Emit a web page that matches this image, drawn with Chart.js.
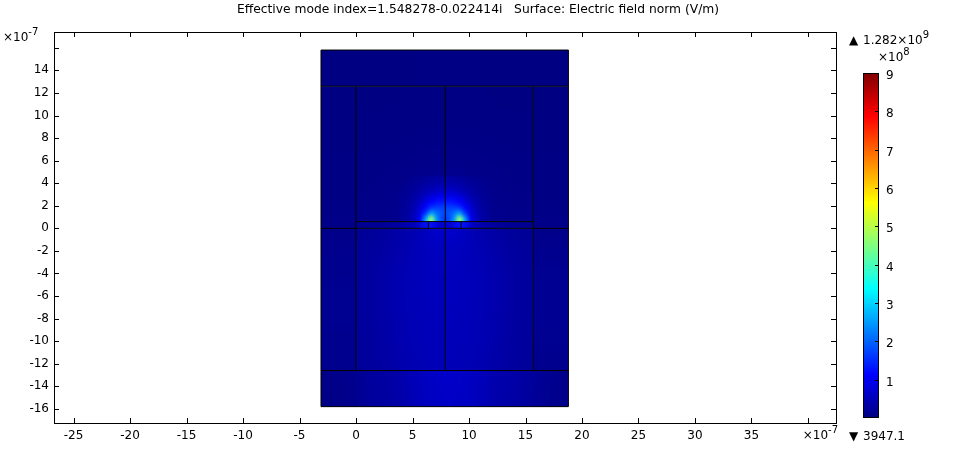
<!DOCTYPE html>
<html>
<head>
<meta charset="utf-8">
<script src="https://cdn.jsdelivr.net/npm/chart.js@4.4.0/dist/chart.umd.min.js"></script>
<style>
html, body { margin: 0; padding: 0; background: #fff; }
#grafico { display: block; }
</style>
</head>
<body>
<canvas id="grafico" width="962" height="452"></canvas>
<script>
// Textos
var titulo = "Effective mode index=1.548278-0.022414i   Surface: Electric field norm (V/m)";
var maximoTexto = "1.282\u00d710";
var maximoExp = "9";
var minimoTexto = "3947.1";

// Ejes (x10^-7 m)
var xRango = [-26.73, 42.48];
var yRango = [-17.25, 17.4];
var xTicks = [-25, -20, -15, -10, -5, 0, 5, 10, 15, 20, 25, 30, 35, 40];
var xEtiquetas = ["-25", "-20", "-15", "-10", "-5", "0", "5", "10", "15", "20", "25", "30", "35", ""];
var yTicks = [-16, -14, -12, -10, -8, -6, -4, -2, 0, 2, 4, 6, 8, 10, 12, 14, 16];
var yEtiquetas = ["-16", "-14", "-12", "-10", "-8", "-6", "-4", "-2", "0", "2", "4", "6", "8", "10", "12", "14", ""];

// Barra de color (x10^8 V/m)
var cbRango = [0, 9];
var cbTicks = [1, 2, 3, 4, 5, 6, 7, 8, 9];

// Campo |E| por regiones (x10^8 V/m), filas de arriba hacia abajo
// extension: [xmin, xmax, ymin, ymax]
var extCubierta = [-3.1, 18.8, 12.6, 15.8];
var campoCubierta = [
  [0.02, 0.03, 0.03, 0.04, 0.04, 0.03, 0.03, 0.02]
];

var extLateralIzq = [-3.1, 0, -12.6, 12.6];
var campoLateralIzq = [[0.02], [0.03], [0.03], [0.04], [0.05], [0.06], [0.09], [0.12], [0.14], [0.15], [0.15], [0.14], [0.13]];

var extLateralDer = [15.7, 18.8, -12.6, 12.6];
var campoLateralDer = [[0.02], [0.03], [0.03], [0.04], [0.05], [0.06], [0.09], [0.13], [0.15], [0.16], [0.16], [0.15], [0.14]];

var extCentralSup = [0, 15.7, 0.6, 12.6];
var campoCentralSup = [
  [0.03, 0.03, 0.04, 0.04, 0.04, 0.04, 0.03, 0.03],
  [0.04, 0.04, 0.05, 0.05, 0.05, 0.05, 0.04, 0.04],
  [0.05, 0.05, 0.06, 0.07, 0.07, 0.06, 0.05, 0.05],
  [0.06, 0.07, 0.08, 0.10, 0.10, 0.08, 0.07, 0.06],
  [0.07, 0.09, 0.12, 0.16, 0.16, 0.12, 0.09, 0.07],
  [0.09, 0.11, 0.16, 0.22, 0.22, 0.16, 0.11, 0.09]
];

var extBrillo = [3.9, 11.9, 0.6, 4.6];
var campoBrillo = [
  [0.10, 0.12, 0.15, 0.19, 0.23, 0.27, 0.30, 0.32, 0.32, 0.30, 0.27, 0.23, 0.19, 0.15, 0.12, 0.10],
  [0.12, 0.15, 0.20, 0.25, 0.32, 0.38, 0.43, 0.45, 0.45, 0.43, 0.38, 0.32, 0.25, 0.20, 0.15, 0.12],
  [0.14, 0.18, 0.25, 0.33, 0.42, 0.52, 0.60, 0.64, 0.64, 0.60, 0.52, 0.42, 0.33, 0.25, 0.18, 0.14],
  [0.16, 0.22, 0.30, 0.44, 0.60, 0.78, 0.90, 0.95, 0.95, 0.90, 0.78, 0.60, 0.44, 0.30, 0.22, 0.16],
  [0.18, 0.25, 0.38, 0.58, 0.85, 1.12, 1.25, 1.30, 1.30, 1.25, 1.12, 0.85, 0.58, 0.38, 0.25, 0.18],
  [0.20, 0.28, 0.45, 0.72, 1.15, 1.55, 1.65, 1.65, 1.65, 1.65, 1.55, 1.15, 0.72, 0.45, 0.28, 0.20],
  [0.22, 0.31, 0.52, 0.88, 1.60, 2.50, 2.10, 1.80, 1.80, 2.10, 2.50, 1.60, 0.88, 0.52, 0.31, 0.22],
  [0.23, 0.33, 0.58, 1.00, 2.50, 4.60, 2.40, 1.70, 1.70, 2.40, 4.60, 2.50, 1.00, 0.58, 0.33, 0.23]
];

var extCapa = [0, 15.7, 0, 0.6];
var campoCapa = [
  [0.15, 0.18, 0.22, 0.28, 0.38, 0.60, 1.30, 0.75, 0.75, 1.30, 0.60, 0.38, 0.28, 0.22, 0.18, 0.15]
];

var extCentralInf = [0, 15.7, -12.6, 0];
var campoCentralInf = [
  [0.22, 0.30, 0.42, 0.64, 0.64, 0.42, 0.30, 0.22],
  [0.24, 0.33, 0.45, 0.58, 0.58, 0.45, 0.33, 0.24],
  [0.25, 0.35, 0.47, 0.55, 0.55, 0.47, 0.35, 0.25],
  [0.26, 0.37, 0.48, 0.54, 0.54, 0.48, 0.37, 0.26],
  [0.27, 0.38, 0.49, 0.53, 0.53, 0.49, 0.38, 0.27],
  [0.27, 0.38, 0.49, 0.53, 0.53, 0.49, 0.38, 0.27],
  [0.27, 0.38, 0.48, 0.53, 0.53, 0.48, 0.38, 0.27],
  [0.27, 0.38, 0.48, 0.52, 0.52, 0.48, 0.38, 0.27],
  [0.26, 0.37, 0.47, 0.52, 0.52, 0.47, 0.37, 0.26],
  [0.26, 0.37, 0.47, 0.51, 0.51, 0.47, 0.37, 0.26],
  [0.25, 0.36, 0.46, 0.50, 0.50, 0.46, 0.36, 0.25],
  [0.25, 0.35, 0.45, 0.50, 0.50, 0.45, 0.35, 0.25],
  [0.24, 0.34, 0.44, 0.49, 0.49, 0.44, 0.34, 0.24]
];

var extSustrato = [-3.1, 18.8, -15.8, -12.6];
var campoSustrato = [
  [0.08, 0.12, 0.28, 0.33, 0.50, 0.62, 0.64, 0.56, 0.40, 0.34, 0.22, 0.12],
  [0.07, 0.11, 0.26, 0.31, 0.48, 0.60, 0.62, 0.54, 0.38, 0.32, 0.20, 0.11]
];

// Contornos de la geometria [x1, y1, x2, y2]
var bordes = [
  [-3.1, 15.8, 18.8, 15.8],
  [-3.1, -15.8, 18.8, -15.8],
  [-3.1, -15.8, -3.1, 15.8],
  [18.8, -15.8, 18.8, 15.8],
  [-3.1, 12.6, 18.8, 12.6],
  [-3.1, -12.6, 18.8, -12.6],
  [-3.1, 0, 18.8, 0],
  [0, 0.6, 15.7, 0.6],
  [0, -12.6, 0, 12.6],
  [15.7, -12.6, 15.7, 12.6],
  [7.9, -12.6, 7.9, 12.6],
  [6.4, 0, 6.4, 0.6],
  [9.3, 0, 9.3, 0.6]
];

var fuente = "12px 'DejaVu Sans'";
var fuenteTitulo = "12.3px 'DejaVu Sans'";
var fuenteSup = "10px 'DejaVu Sans'";

function jet(v) {
  var t = (v - cbRango[0]) / (cbRango[1] - cbRango[0]);
  t = Math.max(0, Math.min(1, t));
  function c(a) { return Math.round(255 * Math.max(0, Math.min(1, a))); }
  return [c(1.5 - Math.abs(4 * t - 3)), c(1.5 - Math.abs(4 * t - 2)), c(1.5 - Math.abs(4 * t - 1))];
}

function pintarCampo(chart, ext, valores) {
  var ctx = chart.ctx;
  var filas = valores.length, cols = valores[0].length;
  var off = document.createElement("canvas");
  off.width = cols;
  off.height = filas;
  var octx = off.getContext("2d");
  var img = octx.createImageData(cols, filas);
  for (var i = 0; i < filas; i++) {
    for (var j = 0; j < cols; j++) {
      var col = jet(valores[i][j]);
      var k = (i * cols + j) * 4;
      img.data[k] = col[0];
      img.data[k + 1] = col[1];
      img.data[k + 2] = col[2];
      img.data[k + 3] = 255;
    }
  }
  octx.putImageData(img, 0, 0);
  var sx = chart.scales.x, sy = chart.scales.y;
  var x0 = sx.getPixelForValue(ext[0]), x1 = sx.getPixelForValue(ext[1]);
  var y0 = sy.getPixelForValue(ext[3]), y1 = sy.getPixelForValue(ext[2]);
  ctx.save();
  ctx.beginPath();
  ctx.rect(x0, y0, x1 - x0, y1 - y0);
  ctx.clip();
  ctx.imageSmoothingEnabled = true;
  ctx.imageSmoothingQuality = "high";
  ctx.drawImage(off, x0, y0, x1 - x0, y1 - y0);
  ctx.restore();
}

var pluginCampo = {
  id: "campo",
  beforeDatasetsDraw: function (chart) {
    pintarCampo(chart, extCubierta, campoCubierta);
    pintarCampo(chart, extSustrato, campoSustrato);
    pintarCampo(chart, extLateralIzq, campoLateralIzq);
    pintarCampo(chart, extLateralDer, campoLateralDer);
    pintarCampo(chart, extCentralSup, campoCentralSup);
    pintarCampo(chart, extCentralInf, campoCentralInf);
    pintarCampo(chart, extCapa, campoCapa);
    pintarCampo(chart, extBrillo, campoBrillo);
  }
};

function potencia(ctx, base, exp, x, y, alin) {
  ctx.font = fuente;
  var wb = ctx.measureText(base).width;
  ctx.font = fuenteSup;
  var we = ctx.measureText(exp).width;
  var x0 = alin === "right" ? x - wb - we : x;
  ctx.textAlign = "left";
  ctx.font = fuente;
  ctx.fillText(base, x0, y);
  ctx.font = fuenteSup;
  ctx.fillText(exp, x0 + wb, y - 6);
}

var pluginEjes = {
  id: "ejes",
  afterDraw: function (chart) {
    var ctx = chart.ctx;
    var a = chart.chartArea;
    var sx = chart.scales.x, sy = chart.scales.y;
    ctx.save();
    ctx.strokeStyle = "#000";
    ctx.fillStyle = "#000";
    ctx.lineWidth = 1;
    ctx.strokeRect(Math.round(a.left) + 0.5, Math.round(a.top) + 0.5, Math.round(a.right - a.left), Math.round(a.bottom - a.top));

    ctx.beginPath();
    xTicks.forEach(function (v) {
      var px = Math.round(sx.getPixelForValue(v)) + 0.5;
      ctx.moveTo(px, a.bottom); ctx.lineTo(px, a.bottom - 5);
      ctx.moveTo(px, a.top); ctx.lineTo(px, a.top + 5);
    });
    yTicks.forEach(function (v) {
      var py = Math.round(sy.getPixelForValue(v)) + 0.5;
      ctx.moveTo(a.left, py); ctx.lineTo(a.left + 5, py);
      ctx.moveTo(a.right, py); ctx.lineTo(a.right - 5, py);
    });
    ctx.stroke();

    ctx.font = fuente;
    ctx.textBaseline = "middle";
    ctx.textAlign = "center";
    xTicks.forEach(function (v, i) {
      ctx.fillText(xEtiquetas[i], sx.getPixelForValue(v), a.bottom + 13);
    });
    ctx.textAlign = "right";
    yTicks.forEach(function (v, i) {
      ctx.fillText(yEtiquetas[i], a.left - 5, sy.getPixelForValue(v));
    });

    potencia(ctx, "\u00d710", "-7", 3, 38, "left");
    potencia(ctx, "\u00d710", "-7", a.right + 2, 436, "right");

    ctx.font = fuenteTitulo;
    ctx.textAlign = "center";
    ctx.fillText(titulo, chart.width / 2 - 3, 10);

    // barra de color
    var cbX = 863, cbW = 16, cbTop = 73, cbBot = 418;
    var cbPix = function (v) { return cbBot - (v - cbRango[0]) / (cbRango[1] - cbRango[0]) * (cbBot - cbTop); };
    for (var py = cbTop; py < cbBot; py++) {
      var v = cbRango[0] + (cbBot - py - 0.5) / (cbBot - cbTop) * (cbRango[1] - cbRango[0]);
      var c = jet(v);
      ctx.fillStyle = "rgb(" + c[0] + "," + c[1] + "," + c[2] + ")";
      ctx.fillRect(cbX, py, cbW, 1);
    }
    ctx.strokeStyle = "#000";
    ctx.strokeRect(cbX + 0.5, cbTop + 0.5, cbW - 1, cbBot - cbTop - 1);
    ctx.fillStyle = "#000";
    ctx.font = fuente;
    ctx.textAlign = "left";
    ctx.beginPath();
    cbTicks.forEach(function (v) {
      var py = Math.round(cbPix(v)) + 0.5;
      ctx.moveTo(cbX + cbW - 1, py); ctx.lineTo(cbX + cbW - 4, py);
      ctx.fillText(String(v), cbX + cbW + 7, cbPix(v) + 3);
    });
    ctx.stroke();

    ctx.fillText("\u25b2", 849, 41);
    potencia(ctx, maximoTexto, maximoExp, 863, 41, "left");
    potencia(ctx, "\u00d710", "8", 878, 58, "left");
    ctx.font = fuente;
    ctx.fillText("\u25bc", 849, 437);
    ctx.fillText(minimoTexto, 863, 437);
    ctx.restore();
  }
};

var datasets = bordes.map(function (s) {
  return {
    data: [{ x: s[0], y: s[1] }, { x: s[2], y: s[3] }],
    showLine: true,
    borderColor: "#000",
    borderWidth: 1,
    pointRadius: 0,
    tension: 0
  };
});

var grafico = new Chart(document.getElementById("grafico").getContext("2d"), {
  type: "scatter",
  data: { datasets: datasets },
  options: {
    responsive: false,
    animation: false,
    devicePixelRatio: 1,
    layout: { padding: { left: 54, right: 126, top: 32, bottom: 29 } },
    plugins: { legend: { display: false }, tooltip: { enabled: false } },
    scales: {
      x: { type: "linear", display: false, min: xRango[0], max: xRango[1] },
      y: { type: "linear", display: false, min: yRango[0], max: yRango[1] }
    }
  },
  plugins: [pluginCampo, pluginEjes]
});
</script>
</body>
</html>
